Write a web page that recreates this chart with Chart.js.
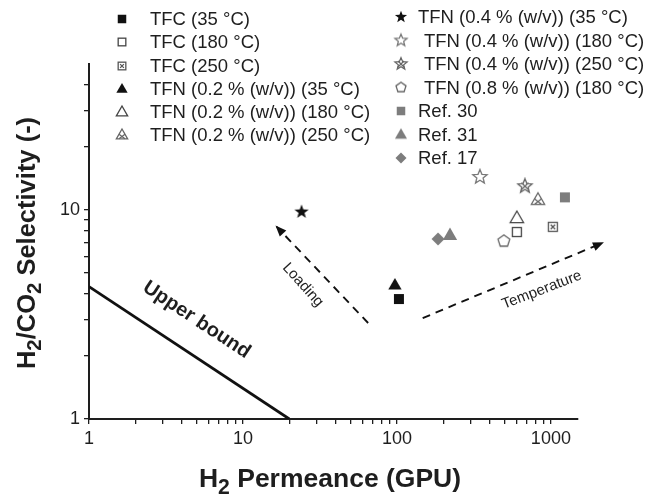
<!DOCTYPE html>
<html>
<head>
<meta charset="utf-8">
<script src="https://cdn.jsdelivr.net/npm/chart.js@4/dist/chart.umd.min.js"></script>
<style>
html,body{margin:0;padding:0;background:#fff;}
canvas{display:block;}
</style>
</head>
<body>
<canvas id="chart" width="650" height="498"></canvas>
<script>
// series, in legend order (left column then right column)
const seriesNames = [
  'TFC (35 °C)', 'TFC (180 °C)', 'TFC (250 °C)',
  'TFN (0.2 % (w/v)) (35 °C)', 'TFN (0.2 % (w/v)) (180 °C)', 'TFN (0.2 % (w/v)) (250 °C)',
  'TFN (0.4 % (w/v)) (35 °C)', 'TFN (0.4 % (w/v)) (180 °C)', 'TFN (0.4 % (w/v)) (250 °C)',
  'TFN (0.8 % (w/v)) (180 °C)', 'Ref. 30', 'Ref. 31', 'Ref. 17'
];
const markerTypes = ['sqFill','sqOpen','sqX','triFill','triOpen','triX','starFill','starOpen','starX','pentOpen','sqGray','triGray','diamGray'];
const permeance   = [103, 601, 1030, 97, 601, 824, 24, 346, 678, 495, 1233, 221, 185];
const selectivity = [3.75, 7.85, 8.31, 4.38, 9.16, 11.2, 9.8, 14.4, 13.0, 7.1, 11.5, 7.6, 7.27];

// upper bound line and the two trend arrows
const upperX = [1, 20];
const upperY = [4.3, 1];
const loadX = [65, 16.6];
const loadY = [2.88, 8.3];
const tempX = [147, 2150];
const tempY = [3.04, 6.95];

const xTickLabels = [1, 10, 100, 1000];
const yTickLabels = [1, 10];

const FONT = '"Liberation Sans", Arial, Helvetica, sans-serif';
const INK = '#1e1e1e';

function starPath(g, r, ri){
  g.beginPath();
  for(let i=0;i<10;i++){
    const a = -Math.PI/2 + i*Math.PI/5;
    const rr = i%2 ? ri : r;
    g.lineTo(Math.cos(a)*rr, Math.sin(a)*rr);
  }
  g.closePath();
}
function triPath(g, r){
  g.beginPath();
  g.moveTo(0,-r); g.lineTo(r*0.95, r*0.65); g.lineTo(-r*0.95, r*0.65);
  g.closePath();
}

function makeMarker(type, k){
  const c = document.createElement('canvas');
  c.width = c.height = 18;
  const g = c.getContext('2d');
  g.translate(9,9);
  g.scale(k,k);
  g.lineWidth = 1.3/k;
  switch(type){
    case 'sqFill': g.fillStyle='#111'; g.fillRect(-5,-5,10,10); break;
    case 'sqOpen': g.strokeStyle='#444'; g.strokeRect(-4.5,-4.5,9,9); break;
    case 'sqX':
      g.strokeStyle='#555'; g.strokeRect(-4.5,-4.5,9,9);
      g.beginPath(); g.moveTo(-2.2,-2.2); g.lineTo(2.2,2.2); g.moveTo(2.2,-2.2); g.lineTo(-2.2,2.2); g.stroke();
      break;
    case 'triFill': g.fillStyle='#111'; triPath(g,7); g.fill(); break;
    case 'triOpen': g.strokeStyle='#444'; triPath(g,7); g.stroke(); break;
    case 'triX':
      g.strokeStyle='#666'; triPath(g,7); g.stroke();
      g.beginPath(); g.moveTo(-3.5,-1); g.lineTo(3.5,4.5); g.moveTo(3.5,-1); g.lineTo(-3.5,4.5); g.stroke();
      break;
    case 'starFill': g.fillStyle='#111'; starPath(g,7.5,3.1); g.fill(); break;
    case 'starOpen': g.strokeStyle='#777'; starPath(g,7.5,3.3); g.stroke(); break;
    case 'starX':
      g.strokeStyle='#666'; starPath(g,7.5,3.3); g.stroke();
      g.beginPath(); g.moveTo(-3.5,-3.5); g.lineTo(3.5,3.5); g.moveTo(3.5,-3.5); g.lineTo(-3.5,3.5); g.stroke();
      break;
    case 'pentOpen':
      g.strokeStyle='#666'; g.beginPath();
      for(let i=0;i<5;i++){ const a=-Math.PI/2+i*2*Math.PI/5; g.lineTo(Math.cos(a)*6.2, Math.sin(a)*6.2); }
      g.closePath(); g.stroke(); break;
    case 'sqGray': g.fillStyle='#7d7d7d'; g.fillRect(-5,-5,10,10); break;
    case 'triGray': g.fillStyle='#7d7d7d'; triPath(g,7.5); g.fill(); break;
    case 'diamGray':
      g.fillStyle='#7d7d7d'; g.beginPath();
      g.moveTo(0,-6.5); g.lineTo(6.5,0); g.lineTo(0,6.5); g.lineTo(-6.5,0); g.closePath(); g.fill(); break;
  }
  return c;
}
const markerImgs = markerTypes.map(t => makeMarker(t, 1));
const legendImgs = markerTypes.map(t => makeMarker(t, 0.85));

const pointSets = seriesNames.map((name,i)=>({
  label: name,
  data: [{x: permeance[i], y: selectivity[i]}],
  pointStyle: markerImgs[i],
  pointRadius: 7
}));

const lineSets = [
  {label:'upper', data: upperX.map((x,i)=>({x, y:upperY[i]})), showLine:true, borderColor:'#111', borderWidth:2.8, pointRadius:0},
  {label:'loading', data: loadX.map((x,i)=>({x, y:loadY[i]})), showLine:true, borderColor:'#111', borderWidth:1.9, borderDash:[8,6], pointRadius:0, clip:false},
  {label:'temperature', data: tempX.map((x,i)=>({x, y:tempY[i]})), showLine:true, borderColor:'#111', borderWidth:1.9, borderDash:[8,6], pointRadius:0, clip:false}
];

function logTicks(maxDecade){
  const t = [];
  for(let d=1; d<maxDecade; d*=10) for(let m=1;m<10;m++) t.push(m*d);
  return t;
}

// rich text with subscripts, centred at (x,y)
function drawRich(g, parts, x, y, size){
  let w = 0;
  parts.forEach(p=>{ g.font = 'bold '+(p[1]?size*0.8:size)+'px '+FONT; w += g.measureText(p[0]).width; });
  let cx = x - w/2;
  g.textBaseline = 'middle'; g.textAlign = 'left';
  parts.forEach(p=>{
    g.font = 'bold '+(p[1]?size*0.8:size)+'px '+FONT;
    g.fillText(p[0], cx, y + (p[1]? size*0.3 : 0));
    cx += g.measureText(p[0]).width;
  });
}

function textAt(g, str, px, py, deg, font){
  g.save();
  g.translate(px, py); g.rotate(deg*Math.PI/180);
  g.font = font; g.textAlign='center'; g.textBaseline='middle';
  g.fillText(str, 0, 0);
  g.restore();
}

const deco = {
  id: 'deco',
  afterDatasetsDraw(chart){
    const g = chart.ctx;
    ['loading','temperature'].forEach(lbl=>{
      const i = chart.data.datasets.findIndex(d=>d.label===lbl);
      const pts = chart.getDatasetMeta(i).data;
      const p0 = pts[0], p1 = pts[1];
      const a = Math.atan2(p1.y-p0.y, p1.x-p0.x);
      g.save();
      g.translate(p1.x, p1.y); g.rotate(a);
      g.fillStyle = '#111';
      g.beginPath(); g.moveTo(2,0); g.lineTo(-9,-4.5); g.lineTo(-9,4.5); g.closePath(); g.fill();
      g.restore();
    });
  },
  afterDraw(chart){
    const g = chart.ctx;
    const xs = chart.scales.x, ys = chart.scales.y;
    g.save();
    g.fillStyle = INK;

    // legend, two columns
    const rowsL = [19, 42, 66, 89, 112, 135];
    const rowsR = [17, 40.5, 64, 87.5, 111, 134.5, 158];
    g.font = '18.5px '+FONT; g.textBaseline='middle'; g.textAlign='left';
    seriesNames.forEach((name,i)=>{
      let mx, tx, y;
      if(i<6){ mx=122; tx=150; y=rowsL[i]; }
      else { mx=401; tx=i===6||i>=10 ? 418 : 424; y=rowsR[i-6]; }
      g.drawImage(legendImgs[i], mx-9, y-9);
      g.fillText(name, tx, y+1);
    });

    // axis titles
    drawRich(g, [['H',0],['2',1],[' Permeance (GPU)',0]], 330, 480, 26.5);
    g.save(); g.translate(28, 243); g.rotate(-Math.PI/2);
    drawRich(g, [['H',0],['2',1],['/CO',0],['2',1],[' Selectivity (-)',0]], 0, 0, 25.5);
    g.restore();

    // annotations
    textAt(g, 'Upper bound', xs.getPixelForValue(5.0), ys.getPixelForValue(2.98), 33.5, 'bold 20px '+FONT);
    textAt(g, 'Loading', xs.getPixelForValue(24.5), ys.getPixelForValue(4.38), 48, '15px '+FONT);
    textAt(g, 'Temperature', xs.getPixelForValue(873), ys.getPixelForValue(4.14), -21, '15px '+FONT);
    g.restore();
  }
};

const axisCommon = {
  type: 'logarithmic',
  grid: {drawOnChartArea:false, drawTicks:true, tickLength:5, color:INK, lineWidth:1.3},
  border: {display:true, color:INK, width:2},
  ticks: {color:INK, font:{size:18, family:FONT}, autoSkip:false, maxRotation:0}
};

new Chart(document.getElementById('chart'), {
  type: 'scatter',
  data: {datasets: [...lineSets, ...pointSets]},
  options: {
    responsive:false, animation:false, devicePixelRatio:1,
    layout: {padding:{top:64, right:72, left:0, bottom:0}},
    plugins: {legend:{display:false}, tooltip:{enabled:false}},
    scales: {
      x: {...axisCommon, min:1, max:1500,
        afterBuildTicks(s){ s.ticks = logTicks(1000).concat([1000]).map(v=>({value:v})); },
        afterFit(s){ s.height = 79; },
        ticks: {...axisCommon.ticks, padding:4, callback:(v)=> xTickLabels.includes(v) ? String(v) : ''}},
      y: {...axisCommon, min:1, max:50,
        afterBuildTicks(s){ s.ticks = logTicks(10).concat([10,20,30,40]).map(v=>({value:v})); },
        afterFit(s){ s.width = 89; },
        ticks: {...axisCommon.ticks, padding:4, callback:(v)=> yTickLabels.includes(v) ? String(v) : ''}}
    }
  },
  plugins: [deco]
});
</script>
</body>
</html>
